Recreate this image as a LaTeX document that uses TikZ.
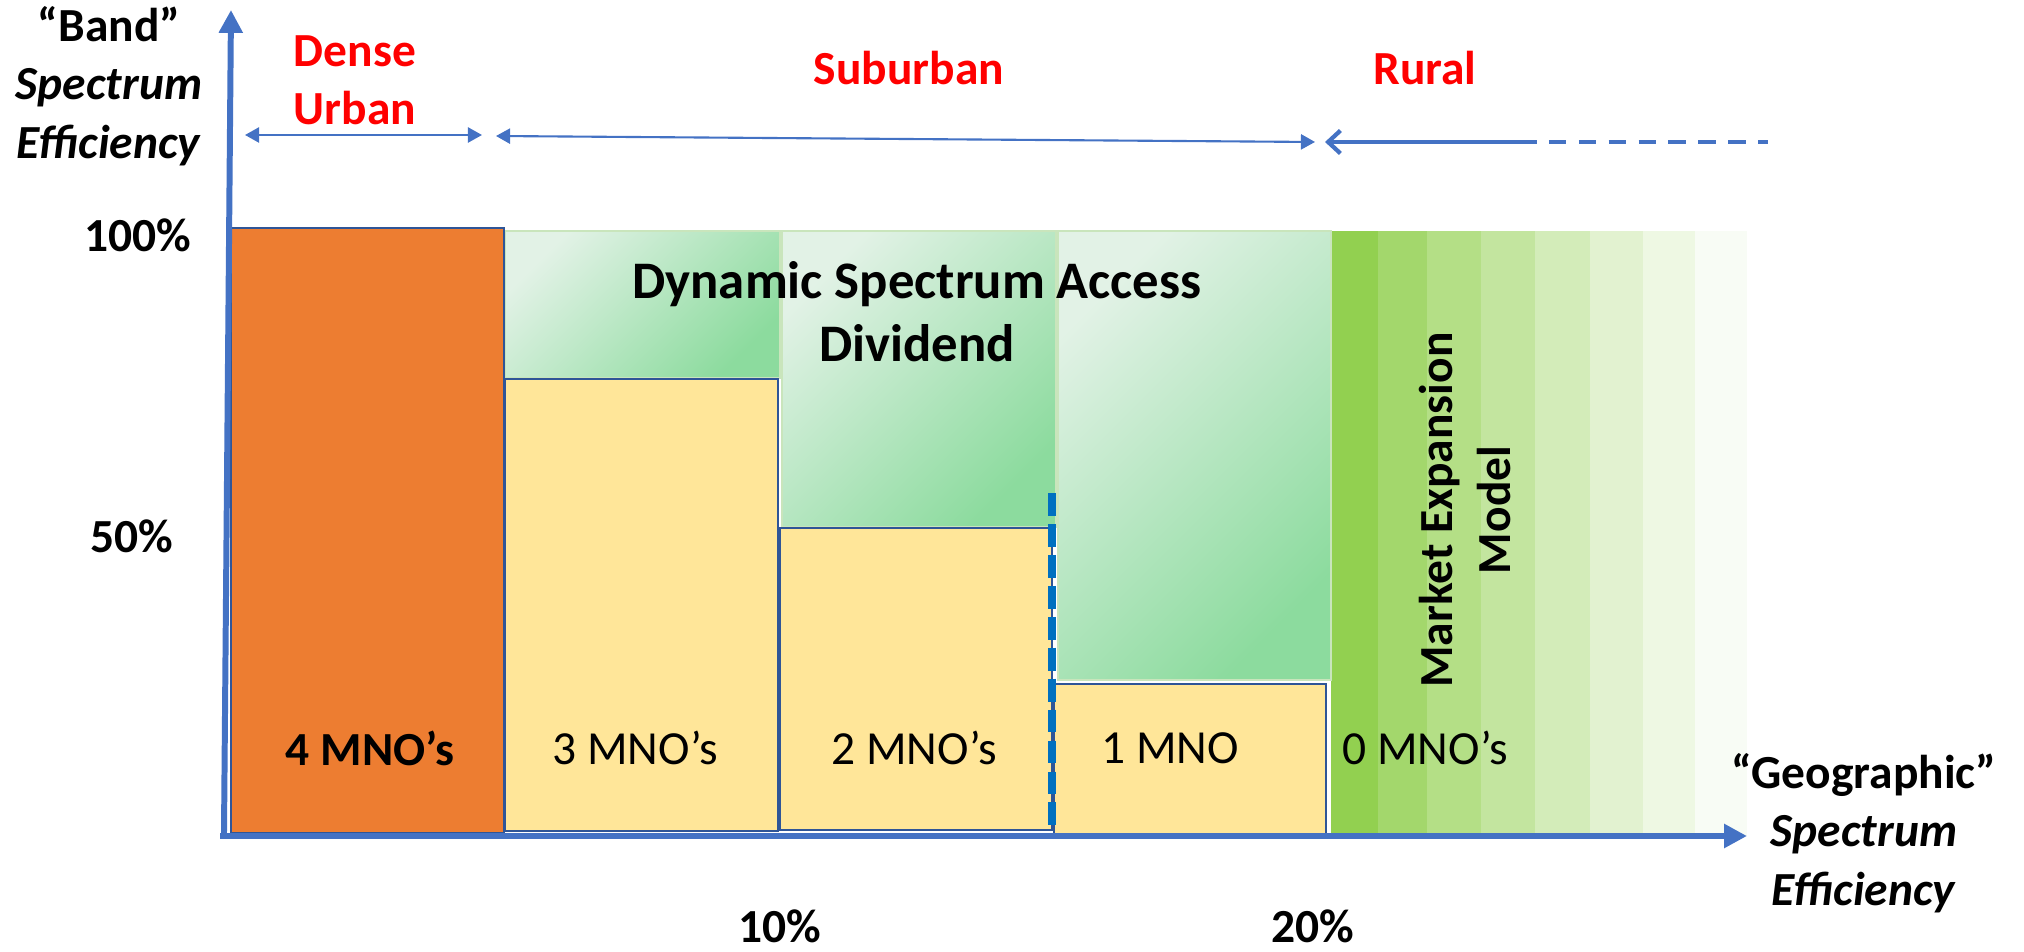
\documentclass[tikz,border=0pt]{standalone}
\usepackage{fontspec}
\setmainfont{Carlito}
\usetikzlibrary{arrows.meta, positioning}
\definecolor{axisblue}{HTML}{4472C4}
\definecolor{edgeblue}{HTML}{2F5597}
\definecolor{mnoorange}{HTML}{ED7D31}
\definecolor{mnoyellow}{HTML}{FFE699}
\definecolor{dsalight}{HTML}{E2F2E6}
\definecolor{dsadark}{HTML}{8CDB9E}
\definecolor{dsaedge}{HTML}{C9E5BC}
\definecolor{megreen}{HTML}{92D050}
\definecolor{cutblue}{HTML}{0070C0}
\newcommand{\lbl}{\fontsize{13.5}{16.6}\selectfont\bfseries}
\newcommand{\plain}{\fontsize{13.5}{16.6}\selectfont}

\begin{document}
\begin{tikzpicture}[x=0.01cm, y=-0.01cm,
  axis/.style={draw=axisblue, line width=1.7pt, -{Triangle[length=6.5pt,width=6.5pt]}},
  span/.style={draw=axisblue, line width=0.6pt},
  tip/.tip={Triangle[length=4pt,width=4.3pt]},
  share/.style={draw=edgeblue, line width=0.6pt},
  dsa/.style={top color=dsalight, bottom color=dsadark, shading angle=45, draw=dsaedge, line width=0.8pt},
  tag/.style={font=\lbl, align=center, inner sep=0pt},
  region/.style={tag, text=red},
  mno/.style={font=\plain, inner sep=0pt}]
  \useasboundingbox (0,0) rectangle (2024,952);

  \foreach \xa/\xb/\pc in {1331/1378/100, 1378/1427/84, 1427/1481/69, 1481/1535/55,
                           1535/1590/40, 1590/1643/27, 1643/1695/16, 1695/1747/6}{
    \fill[megreen!\pc!white] (\xa,231) rectangle (\xb,836);
  };

  \path[dsa] (505,231) rectangle (780,378);
  \path[dsa] (782,231) rectangle (1056,527);
  \path[dsa] (1058,231) rectangle (1331,680);

  \filldraw[share, fill=mnoorange] (231,228) rectangle (504,833);
  \filldraw[share, fill=mnoyellow] (505,379) rectangle (778,831);
  \filldraw[share, fill=mnoyellow] (780,528) rectangle (1052,830);
  \filldraw[share, fill=mnoyellow] (1054,684) rectangle (1326,836);

  \coordinate (cut-t) at (1052,493);
  \coordinate (cut-b) at (1052,838);
  \draw[cutblue, line width=2.2pt, dash pattern=on 6.5pt off 2.3pt] (cut-t) -- (cut-b);

  \coordinate (o) at (231,836);
  \coordinate (ytip) at (231,10);
  \coordinate (xtip) at (1747,836);
  \draw[axis] ([xshift=-2]o) -- (ytip);
  \draw[axis] ([xshift=-3]o) -- (xtip);

  \coordinate (du-l) at (245,135);
  \coordinate (du-r) at (482,135);
  \coordinate (su-l) at (496,136);
  \coordinate (su-r) at (1315,142);
  \coordinate (ru-l) at (1325,142);
  \coordinate (ru-m) at (1519,142);
  \coordinate (ru-r) at (1768,142);
  \draw[span, tip-tip] (du-l) -- (du-r);
  \draw[span, tip-tip] (su-l) -- (su-r);
  \draw[axisblue, line width=1.2pt, {Straight Barb[length=3.5pt,width=6.5pt]}-] (ru-l) -- (ru-m);
  \draw[axisblue, line width=1.2pt, dash pattern=on 5pt off 3.5pt] (ru-m) -- (ru-r);

  \node[tag] (ylab) at (109,86) {“Band”\\\textit{Spectrum}\\\textit{Efficiency}};
  \node[tag] (xlab) at (1864,833) {“Geographic”\\\textit{Spectrum}\\\textit{Efficiency}};

  \node[region] (dense) at (355,80) {Dense\\Urban};
  \node[region] (suburb) at (909,68) {Suburban};
  \node[region] (rural) at (1425,68) {Rural};

  \node[tag] (p100) at (138,235) {100\%};
  \node[tag] (p50) at (132,536) {50\%};
  \node[tag] (p10) at (780,926) {10\%};
  \node[tag] (p20) at (1313,926) {20\%};

  \node[mno, font=\lbl] (mno4) at (370,748) {4 MNO’s};
  \foreach \k/\x/\t in {3/635/3 MNO’s, 2/914/2 MNO’s, 1/1170/1 MNO, 0/1425/0 MNO’s}{
    \node[mno] (mno\k) at (\x,748) {\t};
  };

  \node[tag, font=\fontsize{15}{18}\selectfont\bfseries] (dsa) at (917,312) {Dynamic Spectrum Access\\Dividend};
  \node[tag, rotate=90] (market) at (1465,510) {Market Expansion\\Model};
\end{tikzpicture}
\end{document}
